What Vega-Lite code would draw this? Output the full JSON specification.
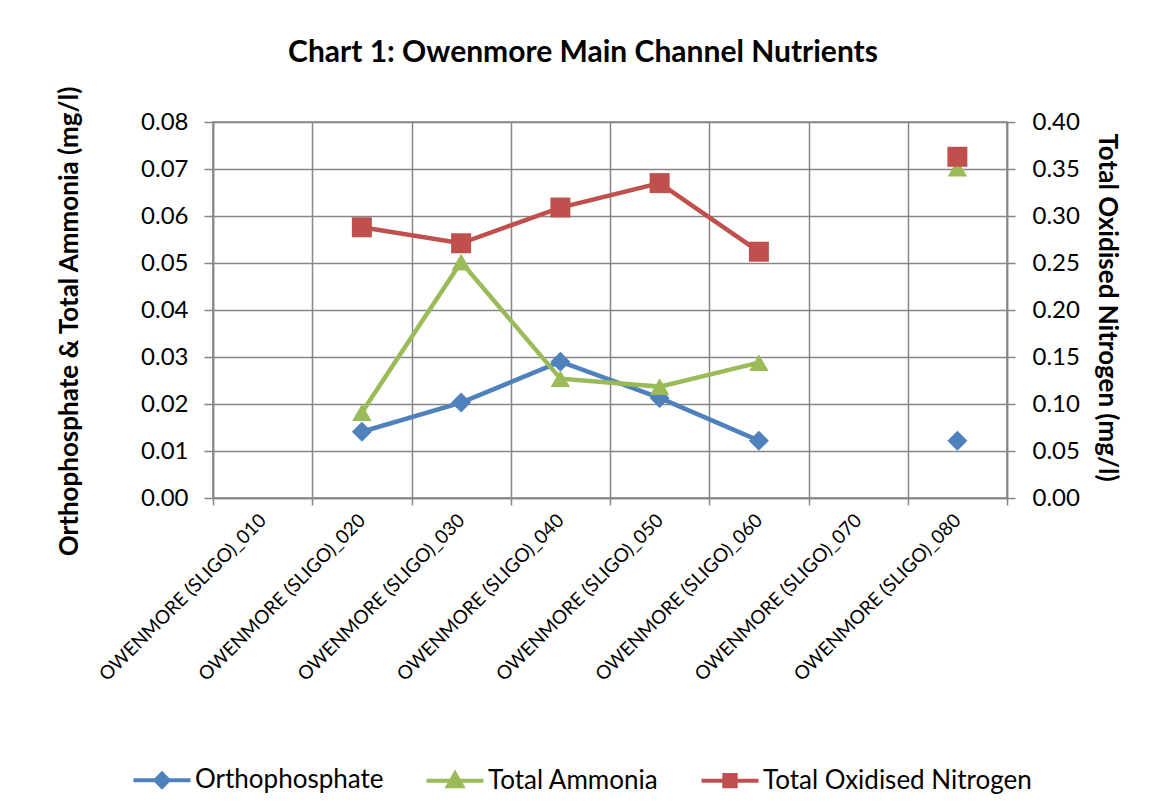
{
  "$schema": "https://vega.github.io/schema/vega-lite/v6.json",
  "width": 794,
  "height": 376,
  "autosize": {"type": "none"},
  "padding": {"left": 213, "top": 122, "right": 142, "bottom": 314},
  "background": "white",
  "config": {"font": "Lato", "view": {"stroke": "#868686", "strokeWidth": 1.5}},
  "title": {"text": "Chart 1: Owenmore Main Channel Nutrients", "fontSize": 30, "fontWeight": "bold", "color": "black", "anchor": "middle", "frame": "group", "dx": -27, "offset": 17},
  "data": {"values": [
    {"site": "OWENMORE (SLIGO)_010", "Orthophosphate": null, "Total Ammonia": null, "Total Oxidised Nitrogen": null},
    {"site": "OWENMORE (SLIGO)_020", "Orthophosphate": 0.0141, "Total Ammonia": 0.0182, "Total Oxidised Nitrogen": 0.288},
    {"site": "OWENMORE (SLIGO)_030", "Orthophosphate": 0.0203, "Total Ammonia": 0.0502, "Total Oxidised Nitrogen": 0.271},
    {"site": "OWENMORE (SLIGO)_040", "Orthophosphate": 0.0290, "Total Ammonia": 0.0254, "Total Oxidised Nitrogen": 0.309},
    {"site": "OWENMORE (SLIGO)_050", "Orthophosphate": 0.0213, "Total Ammonia": 0.0237, "Total Oxidised Nitrogen": 0.335},
    {"site": "OWENMORE (SLIGO)_060", "Orthophosphate": 0.0122, "Total Ammonia": 0.0288, "Total Oxidised Nitrogen": 0.262},
    {"site": "OWENMORE (SLIGO)_070", "Orthophosphate": null, "Total Ammonia": null, "Total Oxidised Nitrogen": null},
    {"site": "OWENMORE (SLIGO)_080", "Orthophosphate": 0.0122, "Total Ammonia": 0.0702, "Total Oxidised Nitrogen": 0.363}
  ]},
  "encoding": {
    "x": {
      "field": "site", "type": "nominal", "bandPosition": 0.5,
      "scale": {"type": "band", "paddingInner": 0, "paddingOuter": 0, "domain": ["OWENMORE (SLIGO)_010", "OWENMORE (SLIGO)_020", "OWENMORE (SLIGO)_030", "OWENMORE (SLIGO)_040", "OWENMORE (SLIGO)_050", "OWENMORE (SLIGO)_060", "OWENMORE (SLIGO)_070", "OWENMORE (SLIGO)_080"]},
      "axis": {"title": null, "labelAngle": -45, "labelAlign": "right", "labelBaseline": "middle", "labelFontSize": 19, "labelLimit": 0, "labelColor": "black", "labelPadding": 12, "tickBand": "extent", "tickSize": 7, "tickColor": "#868686", "tickWidth": 1.5, "domainColor": "#868686", "domainWidth": 1.5, "grid": true, "gridColor": "#868686", "gridWidth": 1.5}
    },
    "color": {
      "field": "series", "type": "nominal",
      "scale": {"domain": ["Orthophosphate", "Total Ammonia", "Total Oxidised Nitrogen"], "range": ["#4F81BD", "#9BBB59", "#C0504D"]},
      "legend": {
        "orient": "none", "legendX": -83, "legendY": 626, "direction": "horizontal", "title": null,
        "labelFontSize": 26, "labelLimit": 0, "labelColor": "black", "labelOffset": 1, "columnPadding": 34,
        "symbolSize": 3600, "symbolStrokeWidth": 4, "symbolOpacity": 1, "symbolFillColor": "transparent"
      }
    }
  },
  "layer": [
    {
      "transform": [{"fold": ["Orthophosphate", "Total Ammonia"], "as": ["series", "value"]}],
      "encoding": {
        "y": {"field": "value", "type": "quantitative", "scale": {"domain": [0, 0.08]},
          "axis": {"values": [0, 0.01, 0.02, 0.03, 0.04, 0.05, 0.06, 0.07, 0.08], "format": ".2f", "labelFontSize": 24, "labelColor": "black", "labelPadding": 16, "tickSize": 9, "tickColor": "#868686", "tickWidth": 1.5, "domainColor": "#868686", "domainWidth": 1.5, "grid": true, "gridColor": "#868686", "gridWidth": 1.5,
            "title": "Orthophosphate & Total Ammonia (mg/l)", "titleFontSize": 26, "titleFontWeight": "bold", "titleColor": "black", "titlePadding": 58, "titleY": 199}}
      },
      "layer": [
        {"mark": {"type": "point", "filled": false, "opacity": 0, "size": 0, "strokeWidth": 4, "strokeCap": "round"},
         "encoding": {"shape": {"field": "series", "type": "nominal",
           "scale": {"domain": ["Orthophosphate", "Total Ammonia", "Total Oxidised Nitrogen"],
             "range": ["M-0.95,0L0.95,0M0,-0.22L0.22,0L0,0.22L-0.22,0ZM0,-0.1L0.1,0L0,0.1L-0.1,0Z",
                       "M-0.95,0L0.95,0M0,-0.24L0.24,0.18L-0.24,0.18ZM0,-0.06L0.09,0.1L-0.09,0.1Z",
                       "M-0.95,0L0.95,0M-0.19,-0.19L0.19,-0.19L0.19,0.19L-0.19,0.19ZM-0.07,-0.07L0.07,-0.07L0.07,0.07L-0.07,0.07Z"]},
           "legend": {"orient": "none", "legendX": -83, "legendY": 626, "direction": "horizontal", "title": null, "labelFontSize": 26, "labelLimit": 0, "labelColor": "black", "labelOffset": 1, "columnPadding": 34, "symbolSize": 3600, "symbolStrokeWidth": 4, "symbolOpacity": 1, "symbolFillColor": "transparent"}}}},
        {"mark": {"type": "line", "strokeWidth": 4.5, "invalid": "break-paths-show-domains"}},
        {"transform": [{"filter": "datum.series === 'Orthophosphate'"}],
         "mark": {"type": "point", "filled": true, "opacity": 1, "size": 400, "shape": "diamond"}},
        {"transform": [{"filter": "datum.series === 'Total Ammonia'"}],
         "mark": {"type": "point", "filled": true, "opacity": 1, "size": 380, "shape": "triangle-up"}}
      ]
    },
    {
      "transform": [{"fold": ["Total Oxidised Nitrogen"], "as": ["series", "value"]}],
      "encoding": {
        "y": {"field": "value", "type": "quantitative", "scale": {"domain": [0, 0.4]},
          "axis": {"orient": "right", "values": [0, 0.05, 0.1, 0.15, 0.2, 0.25, 0.3, 0.35, 0.4], "format": ".2f", "labelFontSize": 24, "labelColor": "black", "labelPadding": 17, "tickSize": 8, "tickColor": "#868686", "tickWidth": 1.5, "domainColor": "#868686", "domainWidth": 1.5, "grid": false,
            "title": "Total Oxidised  Nitrogen (mg/l)", "titleFontSize": 26, "titleFontWeight": "bold", "titleColor": "black", "titlePadding": 14, "titleY": 185}}
      },
      "layer": [
        {"mark": {"type": "line", "strokeWidth": 4.5, "invalid": "break-paths-show-domains"}},
        {"mark": {"type": "point", "filled": true, "opacity": 1, "size": 400, "shape": "square"}}
      ]
    }
  ],
  "resolve": {"scale": {"y": "independent"}}
}
